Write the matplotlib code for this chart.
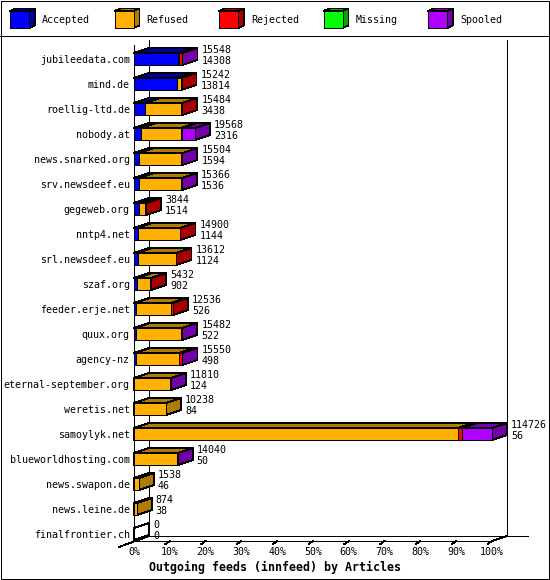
import matplotlib.pyplot as plt
from matplotlib.patches import Polygon, Rectangle

# innfeed outgoing feeds, articles per peer (None = no value reported)
hosts = ["jubileedata.com", "mind.de", "roellig-ltd.de", "nobody.at", "news.snarked.org",
         "srv.newsdeef.eu", "gegeweb.org", "nntp4.net", "srl.newsdeef.eu", "szaf.org",
         "feeder.erje.net", "quux.org", "agency-nz", "eternal-september.org", "weretis.net",
         "samoylyk.net", "blueworldhosting.com", "news.swapon.de", "news.leine.de",
         "finalfrontier.ch"]
offered = [15548, 15242, 15484, 19568, 15504, 15366, 3844, 14900, 13612, 5432,
           12536, 15482, 15550, 11810, 10238, 114726, 14040, 1538, 874, 0]
accepted = [14308, 13814, 3438, 2316, 1594, 1536, 1514, 1144, 1124, 902,
            526, 522, 498, 124, 84, 56, 50, 46, 38, 0]
refused = [0, 1100, 11946, 12700, 13910, 13830, 2200, 13556, 12288, 4400,
           11254, 14960, 13947, 11686, 10154, 103700, 13990, 1492, 836, None]
rejected = [1240, 328, 100, 450, None, None, 130, 200, 200, 130,
            756, None, 1105, None, None, 1400, None, None, None, None]
missing = [None] * 20
spooled = [0, None, None, 4102, 0, 0, None, None, None, None,
           None, 0, 0, 0, None, 9570, 0, None, None, None]

series = ["Accepted", "Refused", "Rejected", "Missing", "Spooled"]
values = [accepted, refused, rejected, missing, spooled]
front = ["#0000ff", "#ffb000", "#ff0000", "#00ff00", "#b000ff"]
shade = ["#0000a8", "#b07c00", "#a80000", "#00a800", "#7400a8"]

W, H = 550, 580
PX_PCT = 3.58     # pixels per percent
ROW = 25.0        # pixels per row
DX, DY = 15 / PX_PCT, 5 / ROW      # 3d depth in data units
HH = 6 / ROW                        # half bar height
LW = 0.6

plt.rcParams['font.family'] = ['DejaVu Sans Mono']
plt.rcParams['patch.antialiased'] = False
plt.rcParams['lines.antialiased'] = False
fig = plt.figure(figsize=(W / 100, H / 100), dpi=100)

# overlay for frame and legend (pixel coordinates)
fa = fig.add_axes([0, 0, 1, 1])
fa.set_xlim(0, W)
fa.set_ylim(H, 0)
fa.axis('off')
fa.add_patch(Rectangle((0.5, 0.5), W - 1.5, H - 1.5, fill=False, lw=LW, ec='black'))
fa.plot([0, W], [35.5, 35.5], color='black', lw=LW)
for k, name in enumerate(series):
    x0, y0, s, d, e = 10 + 104.5 * k, 11, 19, 6, 2.5
    fa.add_patch(Polygon([(x0, y0), (x0 + d, y0 - e), (x0 + s + d, y0 - e), (x0 + s, y0)],
                         fc=shade[k], ec='black', lw=LW))
    fa.add_patch(Polygon([(x0 + s, y0), (x0 + s + d, y0 - e), (x0 + s + d, y0 + 17 - e), (x0 + s, y0 + 17)],
                         fc=shade[k], ec='black', lw=LW))
    fa.add_patch(Rectangle((x0, y0), s, 17, fc=front[k], ec='black', lw=LW))
    fa.text(x0 + 32, 20, name, fontsize=7.2, va='center', ha='left')

# main plot: x in percent, y in rows
ax = fig.add_axes([134 / W, (H - 541) / H, 358 / W, 501 / H])
ax.patch.set_visible(False)
top_row = (40 - 59) / ROW
bot_row = (541 - 59) / ROW
ax.set_xlim(0, 100)
ax.set_ylim(bot_row, top_row)
for sp in ax.spines.values():
    sp.set_visible(False)

totals = [sum(v[i] for v in values if v[i] is not None) for i in range(len(hosts))]
scale = max(totals) / 100.0

# walls and floor
lk = dict(color='black', lw=LW, zorder=1, clip_on=False)
floor_back = bot_row - DY
ax.plot([0, 0], [top_row + DY, bot_row], **lk)
ax.plot([DX, DX], [top_row, floor_back], **lk)
ax.plot([100 + DX, 100 + DX], [top_row, floor_back], **lk)
ax.plot([DX, 100 + DX + 21 / PX_PCT], [floor_back, floor_back], **lk)
ax.plot([0, 100], [bot_row, bot_row], **lk)
ax.plot([100, 100 + DX], [bot_row, floor_back], **lk)
ax.plot([-DX, DX], [bot_row + DY * 1.2, floor_back], **lk)
for t in range(10, 101, 10):
    ax.plot([t, t - 1.2], [bot_row, bot_row + 0.12], **lk)

for i in range(len(hosts)):
    left = 0.0
    for k, v in enumerate(values):
        val = v[i]
        if val is None:
            continue
        w = val / scale
        fc, sc = front[k], shade[k]
        if totals[i] == 0:
            fc = sc = 'white'
        x0, x1 = left, left + w
        t, b = i - HH, i + HH
        ax.add_patch(Polygon([(x0, t), (x1, t), (x1 + DX, t - DY), (x0 + DX, t - DY)],
                             fc=sc, ec='black', lw=LW, zorder=2, clip_on=False))
        ax.add_patch(Polygon([(x1, t), (x1 + DX, t - DY), (x1 + DX, b - DY), (x1, b)],
                             fc=sc, ec='black', lw=LW, zorder=2, clip_on=False))
        if w > 0:
            ax.add_patch(Rectangle((x0, t), w, 2 * HH, fc=fc, ec='black', lw=LW,
                                   zorder=2, clip_on=False))
        left = x1
    xt = left + DX + 4 / PX_PCT
    ax.text(xt, i - 9 / ROW, str(offered[i]), fontsize=7.2, va='center', ha='left')
    ax.text(xt, i + 2 / ROW, str(accepted[i]), fontsize=7.2, va='center', ha='left')

ax.set_yticks(range(len(hosts)), hosts)
ax.set_xticks(range(0, 101, 10), [f"{p}%" for p in range(0, 101, 10)])
ax.tick_params(axis='y', length=0, pad=3, labelsize=7.2)
ax.tick_params(axis='x', length=0, pad=4, labelsize=7.2)

fig.text(0.5, 1 - 567 / H, "Outgoing feeds (innfeed) by Articles", fontsize=8.4,
         fontweight='bold', ha='center', va='center')

fig.savefig("out.png", dpi=100, facecolor='white')
